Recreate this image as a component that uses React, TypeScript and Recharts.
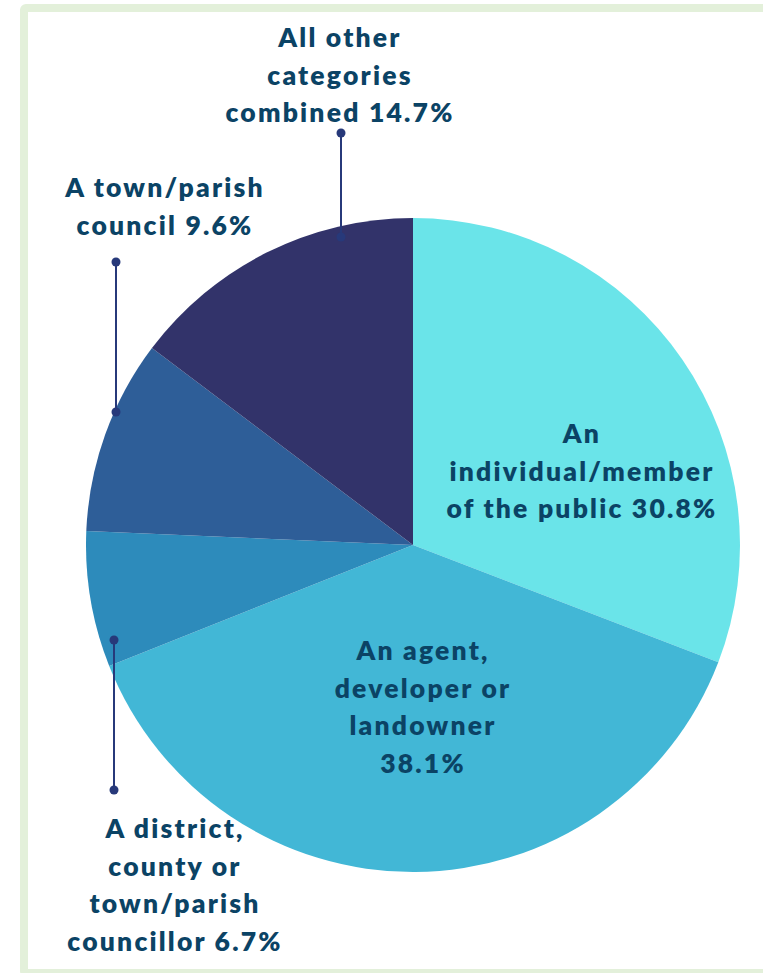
import React from 'react';
import { PieChart, Pie, Cell } from 'recharts';

const categories = [
  'An individual/member of the public',
  'An agent, developer or landowner',
  'A district, county or town/parish councillor',
  'A town/parish council',
  'All other categories combined',
];
const shares = [30.8, 38.1, 6.7, 9.6, 14.7];
const colors = ['#6ae4e9', '#42b7d6', '#2d8bbb', '#2e5e98', '#32336a'];

const labelLines = [
  ['An', 'individual/member', 'of the public 30.8%'],
  ['An agent,', 'developer or', 'landowner', '38.1%'],
  ['A district,', 'county or', 'town/parish', 'councillor 6.7%'],
  ['A town/parish', 'council 9.6%'],
  ['All other', 'categories', 'combined 14.7%'],
];

// label placement (centre x, first baseline y) and optional leader line
const labelLayout = [
  { x: 582, y: 443, leader: null },
  { x: 423, y: 660, leader: null },
  { x: 175, y: 838, leader: { x: 114, y1: 640, y2: 790 } },
  { x: 165, y: 197, leader: { x: 116, y1: 262, y2: 412 } },
  { x: 340, y: 47, leader: { x: 341, y1: 133, y2: 237 } },
];

const data = categories.map((name, i) => ({ name, value: shares[i] }));

const W = 763;
const H = 973;
const TEXT = '#0b4365';
const LEADER = '#27397a';

export default function App() {
  return (
    <div style={{ position: 'absolute', left: 0, top: 0, width: W, height: H, background: '#fff', overflow: 'hidden' }}>
      {/* green frame */}
      <div
        style={{
          position: 'absolute',
          left: 20,
          top: 4,
          width: W,
          height: H,
          border: '8px solid #e3f0da',
          borderRadius: 6,
          boxSizing: 'border-box',
        }}
      />
      <div style={{ position: 'absolute', left: 0, top: 0 }}>
        <PieChart width={W} height={H} margin={{ top: 0, right: 0, bottom: 0, left: 0 }}>
          <Pie
            data={data}
            dataKey="value"
            nameKey="name"
            cx={413}
            cy={545}
            outerRadius={327}
            startAngle={90}
            endAngle={-270}
            stroke="none"
            isAnimationActive={false}
          >
            {data.map((d, i) => (
              <Cell key={d.name} fill={colors[i]} />
            ))}
          </Pie>
        </PieChart>
      </div>
      <svg width={W} height={H} style={{ position: 'absolute', left: 0, top: 0 }}>
        {labelLayout.map((l, i) => (
          <g key={i}>
            {l.leader && (
              <g>
                <line x1={l.leader.x} x2={l.leader.x} y1={l.leader.y1} y2={l.leader.y2} stroke={LEADER} strokeWidth={2} />
                <circle cx={l.leader.x} cy={l.leader.y1} r={4.5} fill={LEADER} />
                <circle cx={l.leader.x} cy={l.leader.y2} r={4.5} fill={LEADER} />
              </g>
            )}
            <text
              textAnchor="middle"
              fill={TEXT}
              style={{ fontFamily: 'Lato, sans-serif', fontWeight: 800, fontSize: 26.5, letterSpacing: 2.2 }}
            >
              {labelLines[i].map((line, j) => (
                <tspan key={j} x={l.x} y={l.y + j * 37.5}>
                  {line}
                </tspan>
              ))}
            </text>
          </g>
        ))}
      </svg>
    </div>
  );
}
